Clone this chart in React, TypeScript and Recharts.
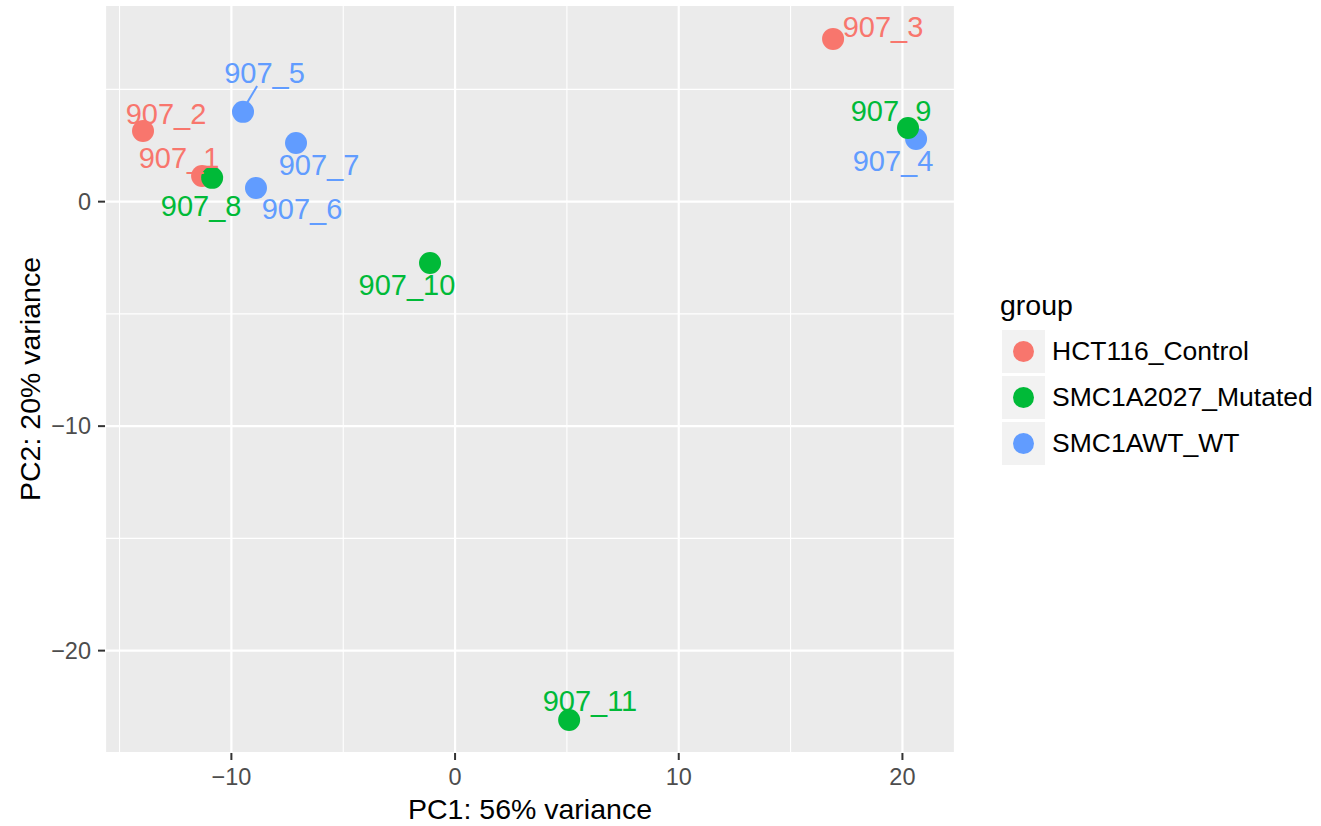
import React from 'react';
import {
  ScatterChart,
  Scatter,
  XAxis,
  YAxis,
  CartesianGrid,
  ReferenceLine,
} from 'recharts';

// ---- data ----
const sampleNames = ['907_1', '907_2', '907_3', '907_4', '907_5', '907_6', '907_7', '907_8', '907_9', '907_10', '907_11'];
const groupNames = ['HCT116_Control', 'SMC1A2027_Mutated', 'SMC1AWT_WT'];
const sampleGroup = [0, 0, 0, 2, 2, 2, 2, 1, 1, 1, 1];
const pc1 = [-11.31, -13.95, 16.9, 20.61, -9.48, -8.9, -7.11, -10.86, 20.25, -1.12, 5.1];
const pc2 = [1.14, 3.15, 7.25, 2.79, 4.0, 0.61, 2.61, 1.06, 3.28, -2.73, -23.09];
// repelled label anchor positions (data units: centre x, baseline y)
const labelPc1 = [-12.34, -12.92, 19.13, 19.58, -8.52, -6.84, -6.08, -11.35, 19.49, -2.15, 6.03];
const labelPc2 = [1.5, 3.46, 7.34, 1.37, 5.29, -0.77, 1.19, -0.64, 3.6, -4.16, -22.67];
// connector segment for 907_5
const segmentPc1 = [-8.85, -9.3];
const segmentPc2 = [5.15, 4.4];

const xDomain = [-15.65, 22.35];
const yDomain = [-24.56, 8.76];
const xMajorTicks = [-10, 0, 10, 20];
const xMinorTicks = [-15, -5, 5, 15];
const yMajorTicks = [-20, -10, 0];
const yMinorTicks = [-15, -5, 5];

const groupColors = ['#F8766D', '#00BA38', '#619CFF'];

const xTitle = 'PC1: 56% variance';
const yTitle = 'PC2: 20% variance';
const legendTitle = 'group';

// ---- derived tables ----
const points = sampleNames.map((n, i) => ({ name: n, x: pc1[i], y: pc2[i], g: sampleGroup[i] }));
const labels = sampleNames.map((n, i) => ({ name: n, x: labelPc1[i], y: labelPc2[i], g: sampleGroup[i] }));

const FONT = '"Liberation Sans", Arial, Helvetica, sans-serif';
const fmt = (v: number) => String(v).replace('-', '\u2212');

const PointShape = (props: any) => {
  const { cx, cy, payload } = props;
  if (cx == null || cy == null) return null;
  return <circle cx={cx} cy={cy} r={11} fill={groupColors[payload.g]} />;
};

const LabelShape = (props: any) => {
  const { cx, cy, payload } = props;
  if (cx == null || cy == null) return null;
  return (
    <text x={cx} y={cy} textAnchor="middle" fontSize={29} fontFamily={FONT} fill={groupColors[payload.g]}>
      {payload.name}
    </text>
  );
};

const Legend = () => (
  <div style={{ position: 'absolute', left: 1000, top: 288, fontFamily: FONT, color: '#000' }}>
    <div style={{ fontSize: 28.5, lineHeight: '34px', height: 40 }}>{legendTitle}</div>
    {groupNames.map((g, i) => (
      <div key={g} style={{ display: 'flex', alignItems: 'center', height: 46 }}>
        <div
          style={{
            width: 43,
            height: 43,
            marginLeft: 2,
            background: '#F2F2F2',
            display: 'flex',
            alignItems: 'center',
            justifyContent: 'center',
          }}
        >
          <div style={{ width: 21, height: 21, borderRadius: '50%', background: groupColors[i] }} />
        </div>
        <div style={{ marginLeft: 7, fontSize: 26.5, whiteSpace: 'nowrap' }}>{g}</div>
      </div>
    ))}
  </div>
);

export default function App() {
  return (
    <div style={{ position: 'absolute', left: 0, top: 0, width: 1321, height: 826, background: '#fff' }}>
      <ScatterChart width={1321} height={826} margin={{ top: 5, right: 366, bottom: 0, left: 0 }}>
        <CartesianGrid
          xAxisId="minor"
          yAxisId="minor"
          fill="#EBEBEB"
          stroke="#FFFFFF"
          strokeWidth={1.1}
        />
        <CartesianGrid xAxisId="main" yAxisId="main" stroke="#FFFFFF" strokeWidth={2.2} />
        <XAxis
          xAxisId="minor"
          type="number"
          dataKey="x"
          domain={xDomain}
          ticks={xMinorTicks}
          allowDataOverflow
          hide
        />
        <YAxis
          yAxisId="minor"
          type="number"
          dataKey="y"
          domain={yDomain}
          ticks={yMinorTicks}
          allowDataOverflow
          hide
        />
        <XAxis
          xAxisId="main"
          type="number"
          dataKey="x"
          domain={xDomain}
          ticks={xMajorTicks}
          interval={0}
          allowDataOverflow
          height={73}
          axisLine={false}
          tickSize={7}
          tickMargin={8}
          tickLine={{ stroke: '#333333', strokeWidth: 2 }}
          tick={{ fill: '#4D4D4D', fontSize: 23.5, fontFamily: FONT }}
          tickFormatter={fmt}
          label={(p: any) => {
            const vb = p.viewBox || { x: 105, y: 753, width: 850 };
            return (
              <text x={vb.x + vb.width / 2} y={819} textAnchor="middle" fontSize={28.5} fontFamily={FONT} fill="#000">
                {xTitle}
              </text>
            );
          }}
        />
        <YAxis
          yAxisId="main"
          type="number"
          dataKey="y"
          domain={yDomain}
          ticks={yMajorTicks}
          interval={0}
          allowDataOverflow
          width={105}
          axisLine={false}
          tickSize={7}
          tickMargin={7}
          tickLine={{ stroke: '#333333', strokeWidth: 2 }}
          tick={{ fill: '#4D4D4D', fontSize: 23.5, fontFamily: FONT }}
          tickFormatter={fmt}
          label={(p: any) => {
            const vb = p.viewBox || { x: 0, y: 5, width: 105, height: 748 };
            const cx = 40;
            const cy = vb.y + vb.height / 2;
            return (
              <text
                x={cx}
                y={cy}
                textAnchor="middle"
                transform={`rotate(-90, ${cx}, ${cy})`}
                fontSize={28.5}
                fontFamily={FONT}
                fill="#000"
              >
                {yTitle}
              </text>
            );
          }}
        />
        <ReferenceLine
          xAxisId="main"
          yAxisId="main"
          segment={[
            { x: segmentPc1[0], y: segmentPc2[0] },
            { x: segmentPc1[1], y: segmentPc2[1] },
          ]}
          stroke={groupColors[2]}
          strokeWidth={2}
        />
        <Scatter
          xAxisId="main"
          yAxisId="main"
          data={points}
          shape={PointShape}
          isAnimationActive={false}
        />
        <Scatter
          xAxisId="main"
          yAxisId="main"
          data={labels}
          shape={LabelShape}
          isAnimationActive={false}
        />
      </ScatterChart>
      <Legend />
    </div>
  );
}
